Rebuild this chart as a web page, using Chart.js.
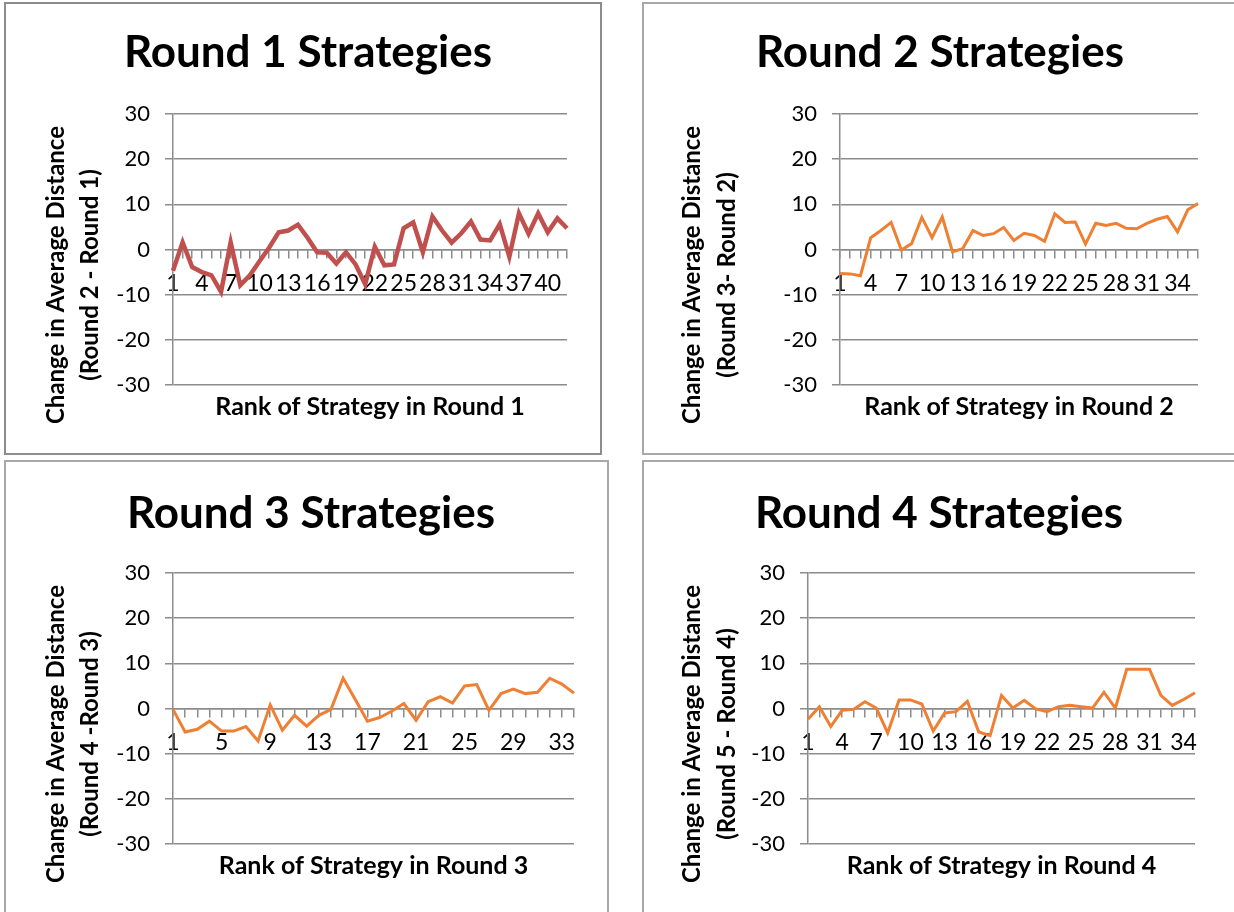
<!DOCTYPE html>
<html>
<head>
<meta charset="utf-8">
<script src="https://cdn.jsdelivr.net/npm/chart.js@4.4.1/dist/chart.umd.min.js"></script>
<style>
  html, body { margin: 0; padding: 0; background: #fff; overflow: hidden; }
  body { width: 1234px; height: 912px; position: relative; }
  .panel { position: absolute; box-sizing: border-box; border: 2px solid #a8a8a8; background: #fff; }
  .panel canvas { position: absolute; left: 0; top: 0; }
</style>
</head>
<body>
<script>
// ranks (categories) and change in average distance, one pair per round
var ranks1 = ['1','2','3','4','5','6','7','8','9','10','11','12','13','14','15','16','17','18','19','20','21',
              '22','23','24','25','26','27','28','29','30','31','32','33','34','35','36','37','38','39','40','41','42'];
var change1 = [-4.7, 1.6, -3.9, -5.0, -5.7, -9.4, 1.6, -7.9, -5.7, -2.6, 0.4, 3.8, 4.2, 5.5, 2.6, -0.6, -0.7,
               -3.1, -0.6, -3.3, -7.7, 0.6, -3.5, -3.3, 4.7, 6.0, -0.6, 7.3, 4.2, 1.5, 3.6, 6.2, 2.2, 2.0,
               5.6, -1.6, 8.0, 3.5, 8.0, 3.8, 6.9, 4.7];

var ranks2 = ['1','2','3','4','5','6','7','8','9','10','11','12','13','14','15','16','17','18',
              '19','20','21','22','23','24','25','26','27','28','29','30','31','32','33','34','35','36'];
var change2 = [-5.3, -5.4, -5.8, 2.6, 4.2, 6.0, -0.1, 1.3, 7.1, 2.6, 7.2, -0.5, 0.2, 4.2, 3.1, 3.5, 4.9, 2.0,
               3.6, 3.1, 1.8, 7.9, 6.0, 6.1, 1.2, 5.8, 5.3, 5.8, 4.7, 4.6, 5.8, 6.7, 7.3, 3.9, 8.8, 10.2];

var ranks3 = ['1','2','3','4','5','6','7','8','9','10','11','12','13','14','15','16','17',
              '18','19','20','21','22','23','24','25','26','27','28','29','30','31','32','33','34'];
var change3 = [-0.2, -5.2, -4.6, -2.8, -5.0, -5.0, -4.0, -7.2, 0.8, -4.8, -1.5, -3.9, -1.5, -0.2, 6.7, 2.0, -2.8,
               -2.0, -0.6, 1.1, -2.6, 1.5, 2.6, 1.2, 5.0, 5.3, -0.4, 3.3, 4.3, 3.3, 3.6, 6.7, 5.4, 3.4];

var ranks4 = ['1','2','3','4','5','6','7','8','9','10','11','12','13','14','15','16','17','18',
              '19','20','21','22','23','24','25','26','27','28','29','30','31','32','33','34','35'];
var change4 = [-2.4, 0.4, -4.0, -0.4, -0.2, 1.5, 0.1, -5.4, 1.9, 1.9, 1.0, -5.0, -1.0, -0.7, 1.6, -5.2, -6.0, 2.9,
               0.1, 1.8, -0.1, -0.7, 0.4, 0.7, 0.4, 0.1, 3.6, 0.1, 8.7, 8.7, 8.7, 2.9, 0.7, 2.0, 3.5];

var yTicks = [-30, -20, -10, 0, 10, 20, 30];

var FONT = 'Lato, "Open Sans", sans-serif';
var GRID = '#8c8c8c';
var RED = '#C0504D';
var ORANGE = '#EE7F33';

// page layout of each panel (box, plot area, text centres)
var panels = [
  {box: [4, 2, 598, 453], plot: [173, 114, 567, 385], titleX: 308, titleY: 53, xTitleY: 407, yTitleX: [56, 90], yTitleY: 275,
   title: 'Round 1 Strategies', xTitle: 'Rank of Strategy in Round 1',
   yLines: ['Change in Average Distance', '(Round 2 - Round 1)'],
   labels: ranks1, values: change1, step: 3, color: RED, width: 4.5, border: '#8c8c8c'},
  {box: [642, 2, 600, 453], plot: [840, 114, 1198, 385], titleX: 940, titleY: 53, xTitleY: 407, yTitleX: [692, 727], yTitleY: 275,
   title: 'Round 2 Strategies', xTitle: 'Rank of Strategy in Round 2',
   yLines: ['Change in Average Distance', '(Round 3- Round 2)'],
   labels: ranks2, values: change2, step: 3, color: ORANGE, width: 3, border: '#a8a8a8'},
  {box: [4, 460, 605, 460], plot: [173, 573, 574, 844], titleX: 311, titleY: 514, xTitleY: 866, yTitleX: [56, 90], yTitleY: 734,
   title: 'Round 3 Strategies', xTitle: 'Rank of Strategy in Round 3',
   yLines: ['Change in Average Distance', '(Round 4 -Round 3)'],
   labels: ranks3, values: change3, step: 4, color: ORANGE, width: 3, border: '#a8a8a8'},
  {box: [642, 460, 600, 460], plot: [808, 573, 1195, 844], titleX: 939, titleY: 514, xTitleY: 866, yTitleX: [692, 727], yTitleY: 734,
   title: 'Round 4 Strategies', xTitle: 'Rank of Strategy in Round 4',
   yLines: ['Change in Average Distance', '(Round 5 - Round 4)'],
   labels: ranks4, values: change4, step: 3, color: ORANGE, width: 3, border: '#a8a8a8'}
];

// rotated two-line axis title, placed like the Excel one
var yTitlePlugin = {
  id: 'yTitle',
  afterDraw: function(chart, args, opts) {
    var ctx = chart.ctx;
    ctx.save();
    ctx.fillStyle = '#000';
    ctx.font = 'bold 24px ' + FONT;
    ctx.textAlign = 'center';
    ctx.textBaseline = 'middle';
    opts.lines.forEach(function(t, i) {
      ctx.save();
      ctx.translate(opts.x[i], opts.y);
      ctx.rotate(-Math.PI / 2);
      ctx.fillText(t, 0, 0);
      ctx.restore();
    });
    ctx.restore();
  }
};

panels.forEach(function(p) {
  var div = document.createElement('div');
  div.className = 'panel';
  div.style.left = p.box[0] + 'px';
  div.style.top = p.box[1] + 'px';
  div.style.width = p.box[2] + 'px';
  div.style.height = p.box[3] + 'px';
  div.style.borderColor = p.border;
  var canvas = document.createElement('canvas');
  var ox = p.box[0] + 2, oy = p.box[1] + 2;
  var W = p.box[2] - 4, H = p.box[3] - 4;
  canvas.width = W; canvas.height = H;
  canvas.style.width = W + 'px'; canvas.style.height = H + 'px';
  div.appendChild(canvas);
  document.body.appendChild(div);

  var pl = p.plot[0] - ox, pt = p.plot[1] - oy, pr = p.plot[2] - ox, pb = p.plot[3] - oy;
  // left padding chosen so the full-width title is centred where the reference has it
  var padL = 2 * (p.titleX - ox) - pr;
  var tLh = 44 * 1.2, sLh = 25 * 1.2;
  var tTop = (p.titleY - oy) - tLh / 2;
  var sTop = (p.xTitleY - oy) - pb - sLh / 2;

  new Chart(canvas, {
    type: 'line',
    data: {
      labels: p.labels,
      datasets: [{
        data: p.values,
        borderColor: p.color,
        borderWidth: p.width,
        pointRadius: 0,
        tension: 0,
        fill: false
      }]
    },
    plugins: [yTitlePlugin],
    options: {
      responsive: false,
      animation: false,
      events: [],
      layout: { padding: { left: padL, top: 0, right: W - pr, bottom: 0 } },
      plugins: {
        legend: { display: false },
        tooltip: { enabled: false },
        title: {
          display: true, text: p.title, color: '#000',
          font: { family: FONT, size: 44, weight: 'bold', lineHeight: 1.2 },
          padding: { top: tTop, bottom: pt - tTop - tLh }
        },
        subtitle: {
          display: true, position: 'bottom', fullSize: false, text: p.xTitle, color: '#000',
          font: { family: FONT, size: 25, weight: 'bold', lineHeight: 1.2 },
          padding: { top: sTop, bottom: H - pb - sTop - sLh }
        },
        yTitle: { lines: p.yLines, x: [p.yTitleX[0] - ox, p.yTitleX[1] - ox], y: p.yTitleY - oy }
      },
      scales: {
        x: {
          type: 'category',
          position: { y: 0 },
          offset: false,
          grid: { drawOnChartArea: false, drawTicks: true, tickLength: 8, color: GRID, lineWidth: 1.5 },
          border: { display: true, color: GRID, width: 1.5 },
          ticks: {
            autoSkip: false, maxRotation: 0, minRotation: 0, padding: 12, color: '#000',
            font: { family: FONT, size: 23 },
            callback: function(v, i) { return i % p.step === 0 ? this.getLabelForValue(v) : ''; }
          }
        },
        y: {
          min: yTicks[0], max: yTicks[yTicks.length - 1],
          afterBuildTicks: function(s) { s.ticks = yTicks.map(function(v) { return { value: v }; }); },
          afterFit: function(s) { s.width = pl - padL; },
          grid: { color: GRID, lineWidth: 1.5, tickLength: 8 },
          border: { display: true, color: GRID, width: 1.5 },
          ticks: { padding: 15, color: '#000', font: { family: FONT, size: 22 } }
        }
      }
    }
  });
});
</script>
</body>
</html>
